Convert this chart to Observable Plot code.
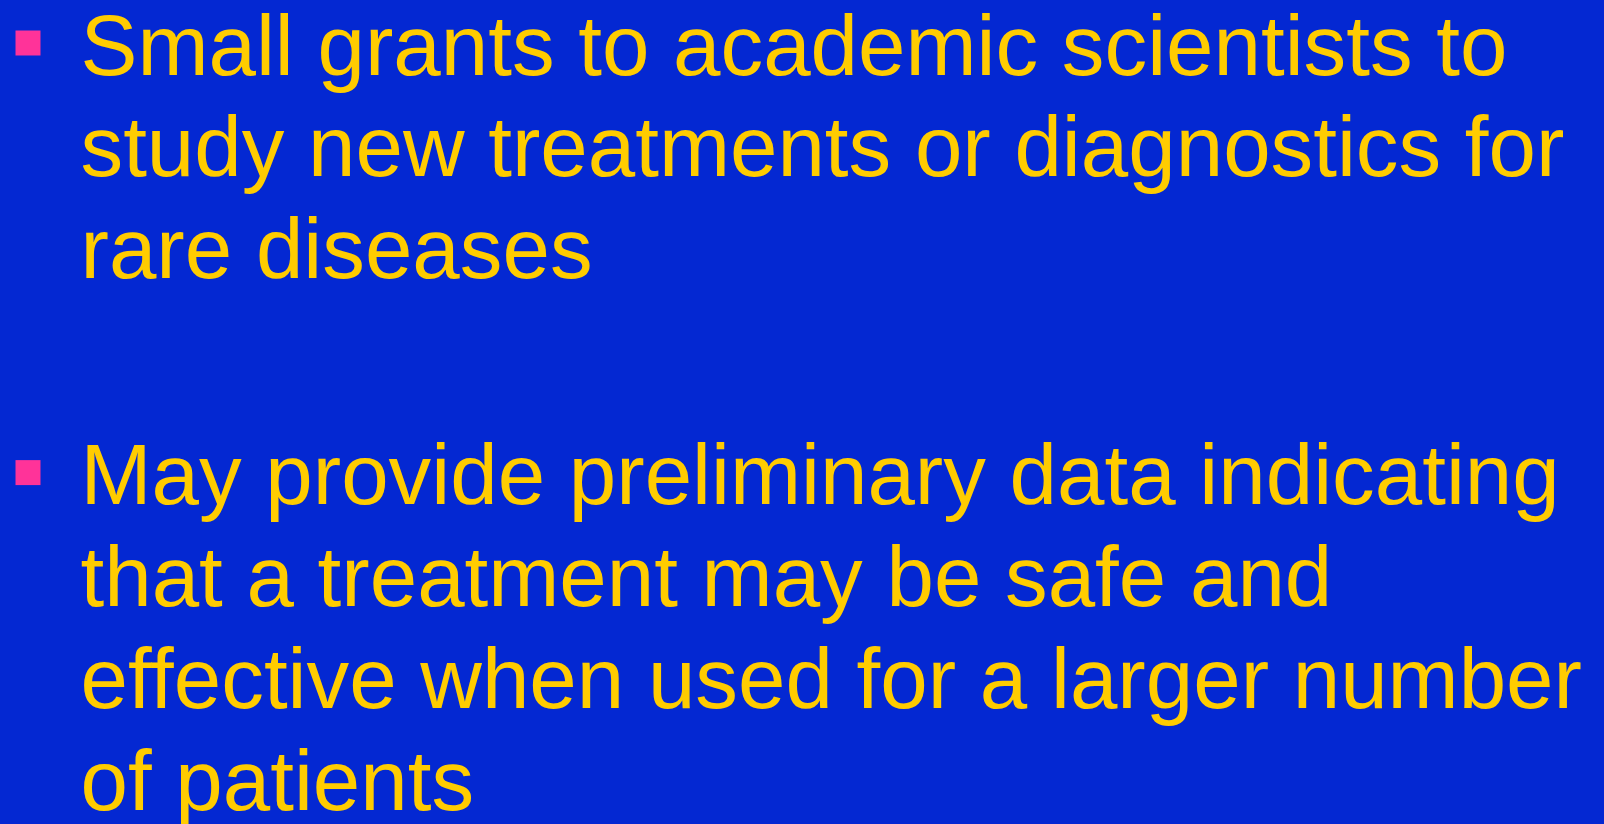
<!DOCTYPE html>
<html>
<head>
<meta charset="utf-8">
<script src="https://cdn.jsdelivr.net/npm/d3@7"></script>
<script src="https://cdn.jsdelivr.net/npm/@observablehq/plot@0.6"></script>
<style>
  html, body { margin: 0; padding: 0; background: #0428D2; overflow: hidden; }
  svg { display: block; }
</style>
</head>
<body>
<div id="chart"></div>
<script>
// Slide content: two bullet paragraphs, each a list of wrapped lines
const paragraph1 = [
  "Small grants to academic scientists to",
  "study new treatments or diagnostics for",
  "rare diseases"
];
const paragraph2 = [
  "May provide preliminary data indicating",
  "that a treatment may be safe and",
  "effective when used for a larger number",
  "of patients"
];
const paragraphs = [paragraph1, paragraph2];

// Build line table: row index in "line units", with a paragraph gap
const paragraphGap = 1.22;
const lines = [];
const bullets = [];
let row = 0;
paragraphs.forEach((p, pi) => {
  bullets.push({row, paragraph: pi});
  p.forEach((t) => { lines.push({row, text: t}); row += 1; });
  row += paragraphGap;
});

const W = 1604, H = 824;
const chart = Plot.plot({
  width: W,
  height: H,
  margin: 0,
  style: {background: "#0428D2", fontFamily: "'Liberation Sans', Arial, sans-serif"},
  x: {domain: [0, 1], range: [0, W], axis: null},
  y: {domain: [0, 7.22], range: [74, 809], axis: null},
  marks: [
    Plot.dot(bullets, {
      x: () => 0, dx: 27.5, y: "row", dy: -31.5,
      symbol: "square", r: 14.1, fill: "#FF3399", stroke: null
    }),
    Plot.text(lines, {
      x: () => 0, dx: 80, y: "row", text: "text",
      textAnchor: "start", lineAnchor: "bottom",
      fontSize: 85.3, fill: "#FFCC00"
    })
  ]
});
document.getElementById("chart").appendChild(chart);
</script>
</body>
</html>
